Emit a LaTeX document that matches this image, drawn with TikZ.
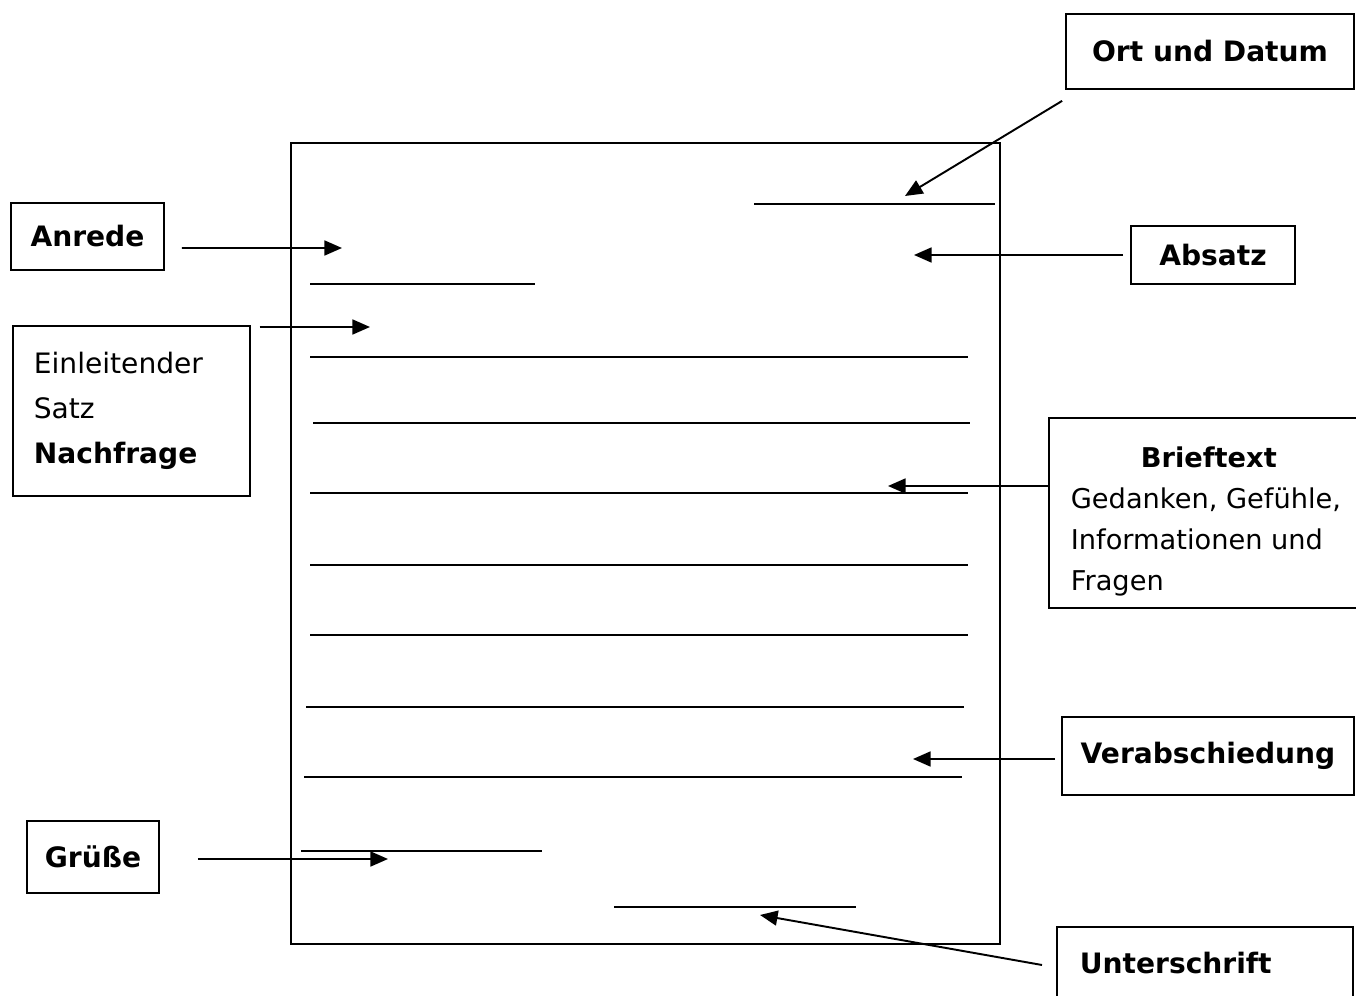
\documentclass[tikz,border=0pt]{standalone}
\usepackage{fontspec}
\setmainfont{DejaVu Sans}
\usepackage{tikz}
\usetikzlibrary{arrows.meta,positioning,calc}

\begin{document}
\begin{tikzpicture}[
      x=0.02cm, y=-0.02cm,
      >={Triangle[length=10pt,width=8.5pt]},
      line width=1.1pt,
      font=\fontsize{16}{23}\selectfont,
      tag/.style={draw, line width=1pt, inner sep=0pt, align=center,
                  font=\fontsize{16}{23}\selectfont\bfseries},
      txt/.style={draw, line width=1pt, inner ysep=0pt, align=left},
      pointer/.style={->, line width=1.1pt},
    ]
    \useasboundingbox (0,0) rectangle (1356,996);
    \clip (0,0) rectangle (1356,996);

    % the letter sheet
    \draw (291,143) rectangle (1000,944);
    \foreach \xa/\xb/\yy in {754/995/204, 310/535/284, 310/968/357, 313/970/423,
                             310/968/493, 310/968/565, 310/968/635, 306/964/707,
                             304/962/777, 301/542/851, 614/856/907}
      \draw (\xa,\yy) -- (\xb,\yy);

    % labels round the sheet
    \node[tag, minimum width=5.76cm, minimum height=1.5cm] (ort) at (1210,51.5) {Ort und Datum};
    \node[tag, minimum width=3.06cm, minimum height=1.34cm] (anrede) at (87.5,236.5) {Anrede};
    \node[tag, minimum width=3.28cm, minimum height=1.16cm] (absatz) at (1213,255) {Absatz};
    \node[txt, anchor=north west, text width=3.9cm, inner xsep=0.42cm,
          minimum height=3.4cm, font=\fontsize{16}{25.5}\selectfont] (einl) at (12,325)
      {Einleitender\\Satz\\\textbf{Nachfrage}\\[-6pt]};
    \node[txt, anchor=west, inner xsep=0.42cm, minimum width=6.4cm,
          minimum height=3.8cm, font=\fontsize{15.5}{23.3}\selectfont] (brief) at (1048,513)
      {\rule{0pt}{21pt}\makebox[5.52cm][c]{\textbf{Brieftext}}\\Gedanken, Gefühle,\\Informationen und\\Fragen};
    \node[tag, minimum width=5.84cm, minimum height=1.56cm] (verab) at (1208,756) {Verabschiedung};
    \node[tag, minimum width=2.64cm, minimum height=1.44cm] (gruesse) at (93,857) {Grüße};
    \node[txt, anchor=west, text width=5cm, inner xsep=0.46cm, minimum height=1.44cm,
          font=\fontsize{16}{23}\selectfont\bfseries] (unter) at (1056,963) {Unterschrift};

    % arrow tips on the sheet
    \coordinate (ortTip) at (905,196);
    \coordinate (anredeTip) at (342,248);
    \coordinate (einlTip) at (370,327);
    \coordinate (absatzTip) at (914,255);
    \coordinate (briefTip) at (888,486);
    \coordinate (verabTip) at (913,759);
    \coordinate (gruesseTip) at (388,859);
    \coordinate (unterTip) at (760,915);

    \draw[pointer] ([shift={(-3,11)}]ort.south west) -- (ortTip);
    \draw[pointer] ([shift={(17,11.5)}]anrede.east) -- (anredeTip);
    \draw[pointer] ([shift={(9,2)}]einl.north east) -- (einlTip);
    \draw[pointer] ([shift={(-7,0)}]absatz.west) -- (absatzTip);
    \draw[pointer] ([shift={(0,-27)}]brief.west) -- (briefTip);
    \draw[pointer] ([shift={(-6,3)}]verab.west) -- (verabTip);
    \draw[pointer] ([shift={(38,2)}]gruesse.east) -- (gruesseTip);
    \draw[pointer] ([shift={(-14,2)}]unter.west) -- (unterTip);
\end{tikzpicture}
\end{document}
